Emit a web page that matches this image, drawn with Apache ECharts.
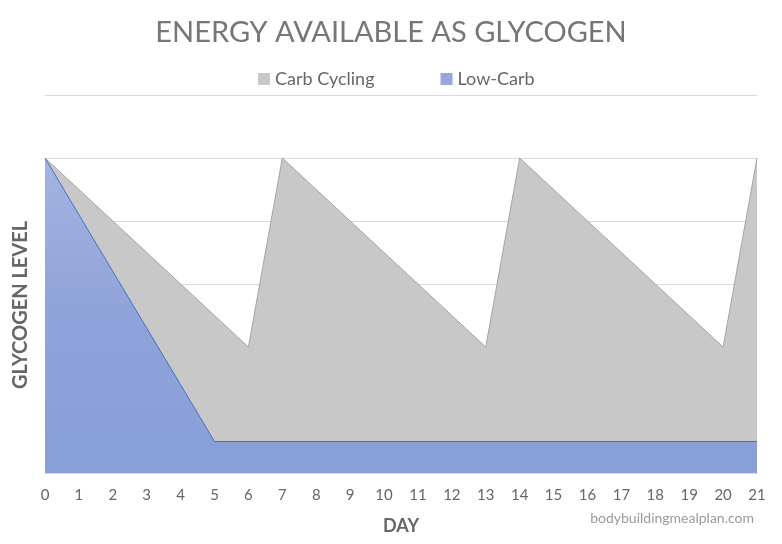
<!DOCTYPE html>
<html>
<head>
<meta charset="utf-8">
<script src="https://cdn.jsdelivr.net/npm/echarts@6/dist/echarts.min.js"></script>
<style>
  html, body { margin: 0; padding: 0; background: #fff; }
  #chart { width: 782px; height: 544px; }
</style>
</head>
<body>
<div id="chart"></div>
<script>
const days = ["0","1","2","3","4","5","6","7","8","9","10","11","12","13","14","15","16","17","18","19","20","21"];
const carbCycling = [5, 4.5, 4, 3.5, 3, 2.5, 2, 5, 4.5, 4, 3.5, 3, 2.5, 2, 5, 4.5, 4, 3.5, 3, 2.5, 2, 5];
const lowCarb = [5, 4.1, 3.2, 2.3, 1.4, 0.5, 0.5, 0.5, 0.5, 0.5, 0.5, 0.5, 0.5, 0.5, 0.5, 0.5, 0.5, 0.5, 0.5, 0.5, 0.5, 0.5];

const font = "Lato, 'Open Sans', sans-serif";

let chart = echarts.init(document.getElementById("chart"));
chart.setOption({
  backgroundColor: "#fff",
  animation: false,
  title: {
    text: "ENERGY AVAILABLE AS GLYCOGEN",
    left: "center",
    top: 13,
    textStyle: { fontFamily: font, fontSize: 29, fontWeight: "normal", color: "#767676" },
  },
  legend: {
    top: 65,
    left: 253,
    itemGap: 66,
    itemWidth: 12,
    itemHeight: 12,
    icon: "rect",
    textStyle: { fontFamily: font, fontSize: 18, color: "#666" },
    data: ["Carb Cycling", "Low-Carb"],
  },
  grid: { left: 45, right: 25, top: 95, bottom: 71 },
  xAxis: {
    type: "category",
    data: days,
    boundaryGap: false,
    axisLine: { lineStyle: { color: "#d9d9d9" } },
    axisTick: { show: false },
    axisLabel: { fontFamily: font, fontSize: 15, color: "#666", margin: 15 },
    name: "DAY",
    nameLocation: "middle",
    nameGap: 44,
    nameTextStyle: { fontFamily: font, fontSize: 18, fontWeight: "bold", color: "#666" },
  },
  yAxis: {
    type: "value",
    min: 0,
    max: 6,
    interval: 1,
    axisLabel: { show: false },
    axisLine: { show: false },
    axisTick: { show: false },
    splitLine: { lineStyle: { color: "#d9d9d9" } },
  },
  graphic: [
    {
      type: "text",
      x: 11,
      y: 305,
      rotation: Math.PI / 2,
      style: {
        text: "GLYCOGEN LEVEL",
        fontFamily: font,
        fontSize: 20,
        fontWeight: "bold",
        fill: "#666",
        align: "center",
        verticalAlign: "top",
      },
    },
    {
      type: "text",
      right: 28,
      top: 511,
      style: {
        text: "bodybuildingmealplan.com",
        fontFamily: font,
        fontSize: 14,
        fill: "#9a9a9a",
      },
    },
  ],
  series: [
    {
      name: "Carb Cycling",
      type: "line",
      data: carbCycling,
      symbol: "none",
      itemStyle: { color: "#c8c8c8", borderColor: "#a5a5a5" },
      lineStyle: { color: "#a5a5a5", width: 1 },
      areaStyle: { color: "#c8c8c8", opacity: 1 },
    },
    {
      name: "Low-Carb",
      type: "line",
      data: lowCarb,
      symbol: "none",
      itemStyle: { color: "#96a9dc", borderColor: "#4472c4" },
      lineStyle: { color: "#4472c4", width: 1 },
      areaStyle: {
        opacity: 1,
        color: new echarts.graphic.LinearGradient(0, 0, 0, 1, [
          { offset: 0, color: "#a4b4e1" },
          { offset: 0.5, color: "#8ea3d9" },
          { offset: 1, color: "#889fd7" },
        ]),
      },
    },
  ],
});
</script>
</body>
</html>
